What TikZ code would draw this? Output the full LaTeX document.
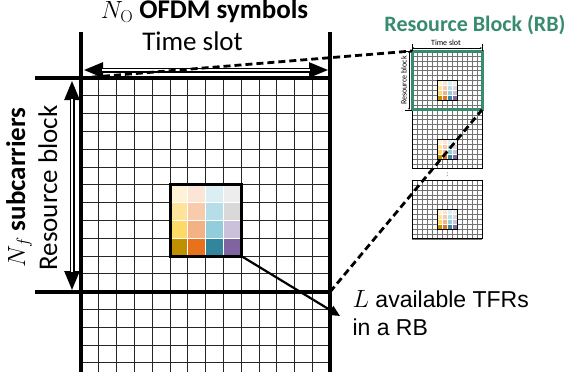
\documentclass[tikz,border=0pt]{standalone}
\usepackage{amsmath}
\usepackage[no-math]{fontspec}
\setmainfont{Carlito}
\newfontfamily\arialfont{Liberation Sans}
\usetikzlibrary{arrows.meta, positioning, calc}

\definecolor{rbgreen}{RGB}{56,140,110}
\definecolor{goldA}{HTML}{FFF2D6}
\definecolor{goldB}{HTML}{FFE39A}
\definecolor{goldC}{HTML}{FFD966}
\definecolor{goldD}{HTML}{BF9000}
\definecolor{orgA}{HTML}{FBE5D6}
\definecolor{orgB}{HTML}{F8CBAD}
\definecolor{orgC}{HTML}{F4B183}
\definecolor{orgD}{HTML}{E8711B}
\definecolor{tealA}{HTML}{DAEEF3}
\definecolor{tealB}{HTML}{B7DEE8}
\definecolor{tealC}{HTML}{92CDDC}
\definecolor{tealD}{HTML}{31859C}
\definecolor{grayA}{HTML}{EDEDED}
\definecolor{grayB}{HTML}{D9D9D9}
\definecolor{grayC}{HTML}{CCC1DA}
\definecolor{purD}{HTML}{8064A2}

\tikzset{
  frameline/.style={line width=3.2pt},
  dblarrow/.style={line width=5pt,
    {Triangle[length=20pt,width=14pt]}-{Triangle[length=20pt,width=14pt]}},
  dblgap/.style={white, line width=2pt, shorten <=19pt, shorten >=19pt},
  tinyarrow/.style={line width=0.4pt, {Stealth[length=2pt]}-{Stealth[length=2pt]}},
  zoomdash/.style={line width=2.8pt, dash pattern=on 7pt off 4pt},
  tfrarrow/.style={line width=2.2pt, -{Triangle[length=11pt,width=10pt]}},
  bigfont/.style={font=\fontsize{27}{32}\selectfont},
  bigbold/.style={font=\fontsize{27}{32}\selectfont\bfseries},
  tinyfont/.style={font=\fontsize{8}{9}\selectfont}
}

% grid of 14 columns with the coloured 4x4 block (local cell units)
\newcommand{\tfrgrid}[4]{%
  \foreach \i in {0,...,14} \draw[line width=#3, #4] (\i,0) -- (\i,#2);
  \foreach \j in {0,...,#1} \draw[line width=#3, #4] (0,\j) -- (14,\j);
  \foreach \c/\ca/\cb/\cc/\cd in {5/goldA/goldB/goldC/goldD, 6/orgA/orgB/orgC/orgD,
      7/tealA/tealB/tealC/tealD, 8/grayA/grayB/grayC/purD} {
    \filldraw[fill=\ca, draw=white, line width=#3] (\c,6) rectangle ++(1,1);
    \filldraw[fill=\cb, draw=white, line width=#3] (\c,7) rectangle ++(1,1);
    \filldraw[fill=\cc, draw=white, line width=#3] (\c,8) rectangle ++(1,1);
    \filldraw[fill=\cd, draw=white, line width=#3] (\c,9) rectangle ++(1,1);
  }%
}

\begin{document}
\begin{tikzpicture}[x=1pt, y=-1pt]
\useasboundingbox (0,0) rectangle (566,372);

% main resource grid
\begin{scope}[xshift=81pt, yshift=-78pt, x=17.8pt, y=-17.8pt]
  \tfrgrid{16}{16.5}{0.9pt}{black!85}
  \draw[line width=3pt] (5,6) rectangle (9,10);
  \coordinate (tfrBR) at (9,10);
\end{scope}

\coordinate (rbTL) at (81,78);
\coordinate (rbBR) at (330,292);
\draw[frameline] (81,32) -- (81,372);
\draw[frameline] (330,32) -- (330,372);
\draw[frameline] (35,78) -- (330,78);
\draw[frameline] (35,292) -- (330,292);

\coordinate (tsL) at (83,70);
\coordinate (tsR) at (329,70);
\draw[dblarrow] (tsL) -- (tsR);
\draw[dblgap] (tsL) -- (tsR);
\coordinate (rbT) at (72,80);
\coordinate (rbB) at (72,291);
\draw[dblarrow] (rbT) -- (rbB);
\draw[dblgap] (rbT) -- (rbB);

\node[bigbold, anchor=base] (ofdm) at (204.5,19) {$N_{\mathrm{O}}$ OFDM symbols};
\node[bigfont, anchor=base] (tslot) at (192.5,50) {Time slot};
\node[bigbold, rotate=90, anchor=base] (subc) at (25,187.5) {$N_f$ subcarriers};
\node[bigfont, rotate=90, anchor=base] (rblock) at (57,188) {Resource block};

% zoomed resource blocks
\foreach \ytop/\bcol/\bw in {180/black/0.8pt, 109.8/black/0.8pt, 51/rbgreen/3pt} {
  \begin{scope}[xshift=412pt, yshift={-\ytop*1pt}, x=5pt, y=-4.9pt]
    \tfrgrid{12}{12}{0.3pt}{black!55}
    \draw[line width=0.6pt] (5,6) rectangle (9,10);
    \draw[line width=\bw, \bcol] (0,0) rectangle (14,12);
  \end{scope}
}
\coordinate (srbTL) at (412,51);
\coordinate (srbBR) at (482,109.8);

\node[font=\bfseries\fontsize{22}{26}\selectfont, text=rbgreen, anchor=base] (rbtitle) at (475,31) {Resource Block (RB)};
\draw[line width=0.5pt] (412,44) -- (412,51);
\draw[line width=0.5pt] (482,44) -- (482,51);
\draw[tinyarrow] (412,48) -- (482,48);
\node[tinyfont, anchor=base] (tstiny) at (446,45.5) {Time slot};
\draw[line width=0.5pt] (405,51) -- (412,51);
\draw[line width=0.5pt] (405,109.8) -- (412,109.8);
\draw[tinyarrow] (409,51) -- (409,109.8);
\node[tinyfont, rotate=90, anchor=base] (rbtiny) at (406.5,80.4) {Resource block};
\node[font=\fontsize{8}{8}\selectfont, text=black!60, inner sep=0pt] (vdots) at (447.5,174.5) {:};

\draw[zoomdash] (rbTL) -- (srbTL);
\draw[zoomdash] (rbBR) -- (srbBR);

% available TFRs
\node[font=\arialfont\fontsize{23}{28}\selectfont, anchor=west, align=left] (ltxt) at (349,313) {$L$ available TFRs\\in a RB};
\coordinate (ltip) at (340,316);
\draw[tfrarrow] (tfrBR) -- (ltip);
\end{tikzpicture}
\end{document}
